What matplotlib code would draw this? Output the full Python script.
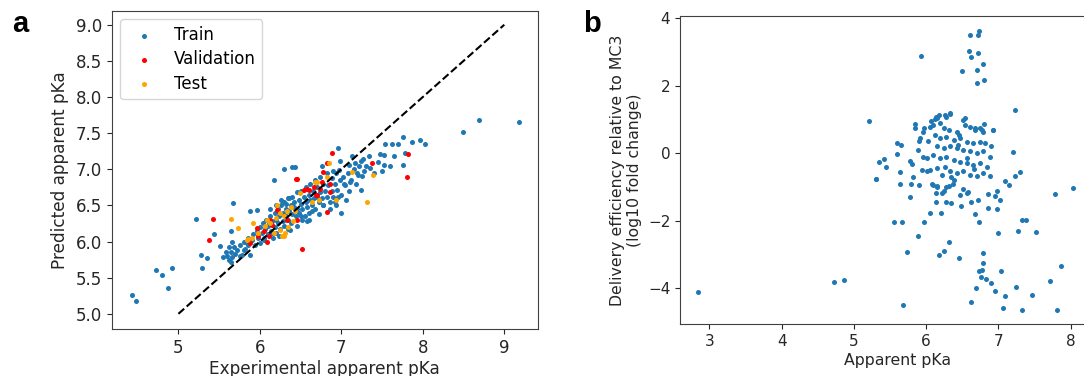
import matplotlib
matplotlib.use("Agg")
import matplotlib.pyplot as plt
import numpy as np

plt.rcParams['font.family'] = ['DejaVu Sans']

# ---------------- Panel a data ----------------
train_x = [4.43, 4.48, 4.72, 4.80, 4.87, 4.92, 5.21, 5.28, 5.29, 5.35, 5.44, 5.51, 5.67, 5.65, 5.66,
           5.88, 5.96, 6.17, 6.29, 6.40, 6.43, 6.96, 6.98, 7.13, 7.24, 7.27, 7.34, 7.47, 7.52, 7.53,
           7.62, 7.70, 7.76, 7.78, 7.87, 7.96, 8.03, 8.49, 8.69, 9.18, 7.52, 7.76, 6.76, 6.90, 6.97,
           7.09, 7.17, 7.19, 7.25, 7.30, 7.24, 6.99,
           5.55, 5.58, 5.62, 5.64, 5.60, 5.62, 5.64, 5.66, 5.68, 5.70, 5.72, 5.75, 5.78, 5.80, 5.82,
           5.84, 5.86, 5.88, 5.90, 5.92, 5.94, 5.96, 5.98, 6.00, 6.00, 6.02, 6.04, 6.05, 6.06, 6.08,
           6.10, 6.10, 6.12, 6.14, 6.15, 6.16, 6.18, 6.18, 6.20, 6.20, 6.22, 6.22, 6.24, 6.25, 6.26,
           6.28, 6.28, 6.30, 6.30, 6.32, 6.32, 6.34, 6.35, 6.36, 6.38, 6.38, 6.40, 6.40, 6.42, 6.42,
           6.44, 6.45, 6.46, 6.48, 6.48, 6.50, 6.50, 6.52, 6.54, 6.55, 6.56, 6.56, 6.58, 6.60, 6.60,
           6.62, 6.62, 6.64, 6.65, 6.66, 6.68, 6.68, 6.70, 6.70, 6.72, 6.74, 6.74, 6.76, 6.78, 6.78,
           6.80, 6.82, 6.82, 6.84, 6.86, 6.88, 6.88, 6.90, 6.92, 6.94, 6.95, 6.98, 7.00, 7.02, 7.05,
           7.08, 7.10, 7.12, 7.15, 7.18, 7.20, 7.22, 7.28, 7.35, 7.40, 7.45, 7.50, 7.60, 7.65,
           6.37, 6.50, 6.60, 6.78, 6.93, 7.03, 7.11, 6.12, 6.20, 6.26, 6.32, 6.36, 5.76, 5.80, 5.85,
           6.05, 6.10, 6.15, 6.24, 6.34, 6.45, 6.52, 6.58, 6.64, 6.72, 6.86, 6.92, 6.96, 7.06]
train_y = [5.26, 5.18, 5.60, 5.54, 5.36, 5.64, 6.31, 5.81, 5.63, 5.77, 6.10, 5.94, 6.54, 6.14, 5.99,
           6.42, 6.44, 6.85, 7.00, 7.03, 7.03, 7.29, 7.12, 7.19, 7.12, 7.14, 7.19, 7.21, 7.20, 7.35,
           7.35, 7.35, 7.45, 7.22, 7.38, 7.41, 7.35, 7.51, 7.68, 7.66, 7.06, 7.06, 7.05, 6.97, 6.99,
           7.06, 7.08, 6.95, 6.91, 7.05, 6.71, 6.40,
           5.79, 5.86, 5.93, 5.72, 5.80, 5.74, 5.86, 5.78, 5.92, 5.83, 5.88, 5.95, 5.82, 6.00, 5.90,
           5.98, 6.05, 5.82, 6.02, 6.10, 5.95, 6.15, 6.05, 6.20, 5.98, 6.12, 6.25, 6.05, 6.18, 6.30,
           6.10, 6.22, 6.35, 6.15, 6.28, 6.05, 6.40, 6.20, 6.30, 6.12, 6.45, 6.25, 6.35, 6.18, 6.50,
           6.28, 6.40, 6.55, 6.22, 6.35, 6.45, 6.30, 6.60, 6.42, 6.50, 6.25, 6.38, 6.62, 6.48, 6.55,
           6.35, 6.68, 6.45, 6.58, 6.40, 6.52, 6.70, 6.45, 6.62, 6.35, 6.55, 6.75, 6.48, 6.65, 6.40,
           6.58, 6.80, 6.50, 6.70, 6.60, 6.85, 6.45, 6.62, 6.75, 6.55, 6.90, 6.68, 6.60, 6.80, 6.50,
           6.70, 6.95, 6.62, 6.78, 6.55, 6.88, 6.70, 6.62, 6.80, 6.95, 6.72, 6.85, 6.65, 6.90, 6.78,
           6.95, 6.70, 6.85, 7.00, 6.80, 6.92, 7.05, 6.98, 7.02, 6.95, 7.10, 6.98, 7.05, 7.18,
           6.16, 6.35, 6.30, 6.51, 6.51, 6.79, 6.83, 6.45, 6.50, 6.58, 6.52, 6.60, 5.80, 5.88, 5.95,
           6.02, 6.28, 6.12, 6.08, 6.18, 6.22, 6.30, 6.28, 6.42, 6.38, 6.45, 6.55, 6.62, 6.58]

val_x = [6.44, 6.54, 6.60, 6.70, 6.21, 6.13, 6.15, 5.96, 5.98, 5.88, 6.09, 6.11, 6.45, 6.52,
         5.42, 5.38, 6.33, 6.88, 6.82, 6.78, 6.76, 6.86, 6.74, 6.86, 6.69, 6.82, 7.38, 7.82,
         7.81, 6.45, 6.66, 6.58, 6.05]
val_y = [6.86, 6.72, 6.72, 6.65, 6.44, 6.30, 6.23, 6.19, 6.07, 5.98, 6.00, 6.07, 6.30, 5.90,
         6.31, 6.02, 6.30, 7.22, 7.09, 6.96, 6.83, 6.79, 6.73, 6.69, 6.65, 6.41, 7.08, 7.21,
         6.90, 6.86, 6.76, 6.73, 6.15]

test_x = [6.09, 6.13, 6.21, 6.25, 6.29, 6.33, 6.25, 6.29, 6.17, 5.90, 5.86, 5.98, 6.06, 6.49,
          6.68, 6.72, 6.64, 6.31, 6.27, 5.92, 5.84, 6.41, 6.43, 6.70, 6.85, 6.82, 6.94, 7.13,
          7.39, 7.31, 5.64, 5.73, 6.35, 6.20, 6.38]
test_y = [6.30, 6.26, 6.51, 6.39, 6.35, 6.42, 6.16, 6.07, 6.12, 6.05, 6.03, 6.12, 6.21, 6.67,
          6.83, 6.58, 6.55, 6.12, 6.07, 6.25, 6.02, 6.28, 6.42, 6.83, 7.08, 6.90, 6.58, 6.96,
          6.92, 6.55, 6.31, 6.19, 6.20, 6.33, 6.48]

ideal_line = [5.0, 9.0]

# ---------------- Panel b data ----------------
pka_b = [6.73, 6.71, 6.61, 5.93, 6.59, 6.72, 6.62, 6.79, 6.70, 6.50, 6.80, 6.70,
         7.23, 5.21, 6.92, 7.20, 7.30, 7.23, 8.03, 5.30, 5.35, 5.42, 5.45, 5.59, 5.60, 5.65,
         5.64, 5.64, 5.79, 5.82, 5.77, 5.81, 5.90, 5.84, 5.84, 5.89, 5.90, 5.92, 5.95, 5.97,
         5.94, 5.96, 6.01, 6.01, 5.31, 5.78, 6.09, 6.15, 6.12, 6.06, 6.14, 6.18, 6.27, 6.33,
         6.53, 6.80, 6.05, 6.77, 6.68,
         6.33, 6.26, 6.15, 6.10, 6.19, 6.24, 6.31, 6.42, 6.51, 6.54, 6.61, 6.68, 6.74, 6.79,
         6.93, 6.12, 6.19, 6.28, 6.38, 6.47, 6.56, 6.65, 6.74, 6.81, 6.15, 6.24, 6.33, 6.42,
         6.51, 6.61, 6.70, 6.79, 6.88, 6.10, 6.19, 6.28, 6.38, 6.47, 6.56, 6.65, 6.74, 6.84,
         6.05, 6.15, 6.26, 6.33, 6.42, 6.51, 6.61, 6.70, 6.79, 6.88, 6.38,
         6.08, 6.15, 6.14, 6.22, 6.24, 6.28, 6.32, 6.37, 6.47, 6.51, 6.56, 6.58, 6.48, 6.62,
         6.72, 6.85, 6.95, 6.98, 7.02, 6.85, 6.98, 7.09, 7.15, 7.78, 6.14, 6.28, 6.34, 6.05,
         6.21, 5.55, 5.67, 5.97, 6.68, 6.73, 6.99, 7.27, 7.32, 7.38, 7.52, 5.89, 6.32, 5.74,
         6.25, 6.18, 6.79, 6.45, 6.79, 7.04, 6.77, 6.73, 7.87, 4.86, 4.73, 6.76, 6.83, 6.89,
         7.71, 6.69, 7.24, 6.95, 7.09, 7.47, 5.68, 6.62, 7.06, 7.32, 7.81, 2.84,
         6.44, 6.57, 6.66, 6.90, 6.35, 6.45, 6.02, 6.22]
eff_b = [3.63, 3.51, 3.51, 2.89, 3.04, 2.96, 2.86, 2.63, 2.47, 2.43, 2.18, 2.08,
         1.29, 0.94, 0.68, 0.03, -0.57, -0.69, -1.02, -0.77, -0.27, -0.17, -0.40, -0.02, 0.31, 0.25,
         -0.56, -0.92, -0.92, -0.72, -0.23, -0.33, -0.94, 0.86, 0.76, 0.10, 0.36, 0.44, 0.64, 0.76,
         -0.49, -0.10, -0.13, -0.54, -0.76, -1.29, -0.94, -0.99, 1.00, 0.95, 1.08, 1.13, 1.08, 1.15,
         1.05, 0.85, 0.79, 0.69, 0.74,
         1.18, 1.13, 1.04, 0.84, 0.89, 0.74, 0.69, 0.64, 0.99, 0.84, 0.79, 0.69, 0.74, 0.64,
         0.69, 0.54, 0.44, 0.49, 0.39, 0.44, 0.34, 0.30, 0.34, 0.30, 0.20, 0.15, 0.20, 0.15,
         0.10, 0.05, 0.00, 0.05, -0.10, -0.05, -0.15, -0.10, -0.20, -0.25, -0.30, -0.35, -0.30, -0.40,
         -0.49, -0.44, -0.40, -0.54, -0.59, -0.54, -0.64, -0.69, -0.59, -0.69, -0.79,
         -0.91, -1.01, -1.19, -1.19, -1.11, -1.01, -0.97, -0.91, -1.24, -1.07, -1.17, -1.14, -1.56, -1.44,
         -1.40, -1.20, -1.27, -1.11, -1.40, -1.64, -1.66, -0.84, -0.95, -1.22, -1.46, -1.46, -1.48, -1.78,
         -1.78, -2.05, -2.05, -2.04, -1.81, -2.05, -2.37, -2.30, -1.98, -1.98, -2.35, -2.47, -2.63, -2.94,
         -2.91, -3.01, -2.96, -3.12, -3.26, -3.49, -3.46, -3.51, -3.34, -3.75, -3.83, -3.69, -3.72, -3.86,
         -3.78, -4.01, -3.98, -4.10, -4.23, -4.20, -4.51, -4.43, -4.59, -4.64, -4.64, -4.11,
         0.25, -0.15, -0.48, 0.20, -0.70, 0.55, 0.35, -0.65]

# ---------------- Figure ----------------
W, H = 1084, 376
fig = plt.figure(figsize=(W / 100, H / 100), dpi=100)

spine_col = '0.25'

# Panel a
axa = fig.add_axes([112 / W, 1 - 329 / H, (537.7 - 112) / W, (329 - 11) / H])
axa.scatter(train_x, train_y, s=13, color='#1f77b4', linewidths=0, label='Train', zorder=2)
axa.scatter(val_x, val_y, s=13, color='red', linewidths=0, label='Validation', zorder=3)
axa.scatter(test_x, test_y, s=13, color='orange', linewidths=0, label='Test', zorder=3)
axa.plot(ideal_line, ideal_line, 'k--', lw=1.5, zorder=4)
axa.set_xlim(4.185, 9.41)
axa.set_ylim(4.79, 9.19)
axa.set_xticks([5, 6, 7, 8, 9])
axa.set_yticks([5.0, 5.5, 6.0, 6.5, 7.0, 7.5, 8.0, 8.5, 9.0])
axa.set_yticklabels(['5.0', '5.5', '6.0', '6.5', '7.0', '7.5', '8.0', '8.5', '9.0'])
axa.tick_params(labelsize=12, colors='0.15')
axa.set_xlabel('Experimental apparent pKa', fontsize=12.2, color='0.15', labelpad=2)
axa.set_ylabel('Predicted apparent pKa', fontsize=12.2, color='0.15', labelpad=5)
leg = axa.legend(loc='upper left', fontsize=12, scatterpoints=1, markerscale=1.0,
                 labelspacing=0.38)
for sp in axa.spines.values():
    sp.set_color(spine_col)

# Panel b
xl_b = (2.595, 8.6)
right_px = 680 + (xl_b[1] - xl_b[0]) * 72.3
axb = fig.add_axes([680 / W, 1 - 324 / H, (right_px - 680) / W, (324 - 16.3) / H])
axb.scatter(pka_b, eff_b, s=13, color='#1f77b4', linewidths=0)
axb.set_xlim(*xl_b)
axb.set_ylim(-5.07, 4.06)
axb.set_xticks([3, 4, 5, 6, 7, 8])
axb.set_yticks([-4, -2, 0, 2, 4])
axb.tick_params(labelsize=11, colors='0.15')
axb.set_xlabel('Apparent pKa', fontsize=11.3, color='0.15', labelpad=3)
axb.set_ylabel('Delivery efficiency relative to MC3\n(log10 fold change)', fontsize=11.3,
               color='0.15')
for sp in axb.spines.values():
    sp.set_color(spine_col)

fig.text(12 / W, 1 - 32 / H, 'a', fontsize=21, fontweight='bold', family='Liberation Sans')
fig.text(583 / W, 1 - 32 / H, 'b', fontsize=21, fontweight='bold', family='Liberation Sans')

fig.savefig('out.png', dpi=100)
